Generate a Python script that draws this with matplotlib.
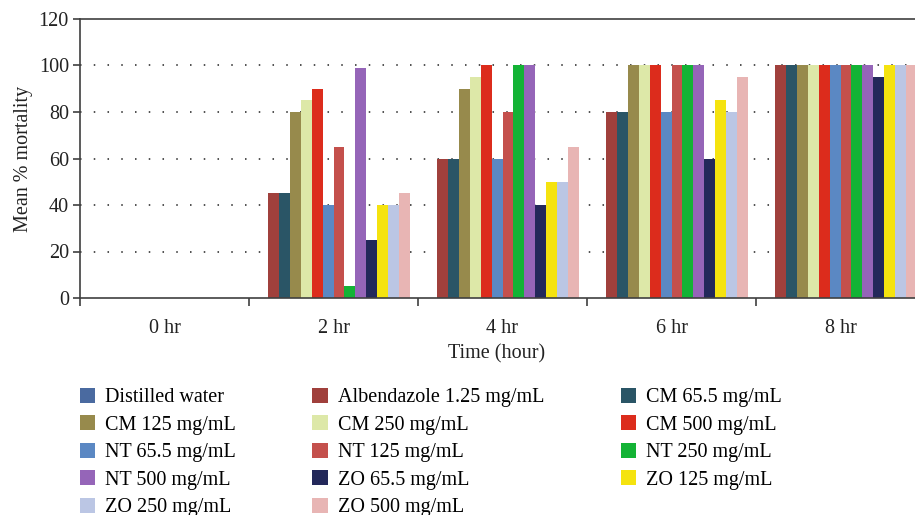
import numpy as np
import matplotlib.pyplot as plt
from matplotlib.patches import Patch

times = ['0 hr', '2 hr', '4 hr', '6 hr', '8 hr']
series = ['Distilled water', 'Albendazole 1.25 mg/mL', 'CM 65.5 mg/mL',
          'CM 125 mg/mL', 'CM 250 mg/mL', 'CM 500 mg/mL',
          'NT 65.5 mg/mL', 'NT 125 mg/mL', 'NT 250 mg/mL',
          'NT 500 mg/mL', 'ZO 65.5 mg/mL', 'ZO 125 mg/mL',
          'ZO 250 mg/mL', 'ZO 500 mg/mL']
colors = ['#4a6aa0', '#a0403c', '#2a5566', '#978a4c', '#dde8a8', '#dc2c1c',
          '#5b88c3', '#c4504c', '#13b335', '#9565b8', '#23285a', '#f5e30f',
          '#bbc6e4', '#e8b5b4']

# rows = series, columns = time points
mortality = np.array([
    [0, 0, 0, 0, 0],
    [0, 45, 60, 80, 100],
    [0, 45, 60, 80, 100],
    [0, 80, 90, 100, 100],
    [0, 85, 95, 100, 100],
    [0, 90, 100, 100, 100],
    [0, 40, 60, 80, 100],
    [0, 65, 80, 100, 100],
    [0, 5, 100, 100, 100],
    [0, 99, 100, 100, 100],
    [0, 25, 40, 60, 95],
    [0, 40, 50, 85, 100],
    [0, 40, 50, 80, 100],
    [0, 45, 65, 95, 100],
])

plt.rcParams['font.family'] = ['Liberation Serif', 'DejaVu Serif']
fig = plt.figure(figsize=(9.15, 5.15), dpi=100)
ax = fig.add_axes([80 / 915, 217 / 515, 845 / 915, 279 / 515])

n = len(series)
w = 0.908 / n
x = np.arange(len(times))
for i in range(n):
    ax.bar(x + (i - (n - 1) / 2) * w, mortality[i], width=w,
           color=colors[i], linewidth=0, zorder=2)

ax.set_xlim(-0.5, 4.5)
ax.set_ylim(0, 120)
ax.set_yticks(range(0, 121, 20))
ax.set_xticks(np.arange(-0.5, 4.6, 1.0))
ax.set_xticklabels([])
ax.set_xticks(x, minor=True)
ax.set_xticklabels(times, minor=True)
ax.tick_params(axis='x', which='minor', length=0, pad=15, labelsize=14.5,
               colors='#222222')
ax.tick_params(axis='x', which='major', length=6, width=1.2, color='#404040')
ax.tick_params(axis='y', length=5, width=1.2, color='#404040',
               labelsize=14.5, labelcolor='#222222', pad=3)

for s in ['left', 'bottom', 'top']:
    ax.spines[s].set_color('#404040')
    ax.spines[s].set_linewidth(1.2)
ax.spines['right'].set_visible(False)

for yv in range(20, 101, 20):
    ax.axhline(yv, color='#222222', lw=1.1, ls=(0, (1, 8)), zorder=1)

ax.set_ylabel('Mean % mortality', fontsize=14.5, color='#222222', labelpad=4)
ax.set_xlabel('Time (hour)', fontsize=14.5, color='#222222')
ax.xaxis.set_label_coords(417 / 845, -0.165)

handles = [Patch(facecolor=c, edgecolor='none') for c in colors]
order = [0, 3, 6, 9, 12, 1, 4, 7, 10, 13, 2, 5, 8, 11]
fig.legend([handles[k] for k in order], [series[k] for k in order],
           ncol=3, loc='upper left', bbox_to_anchor=(80 / 915, 1 - 388 / 515),
           frameon=False, fontsize=14.5, handlelength=0.75, handleheight=0.75,
           handletextpad=0.5, columnspacing=3.8, labelspacing=0.4,
           borderaxespad=0, borderpad=0)

fig.savefig('out.png', dpi=100)
